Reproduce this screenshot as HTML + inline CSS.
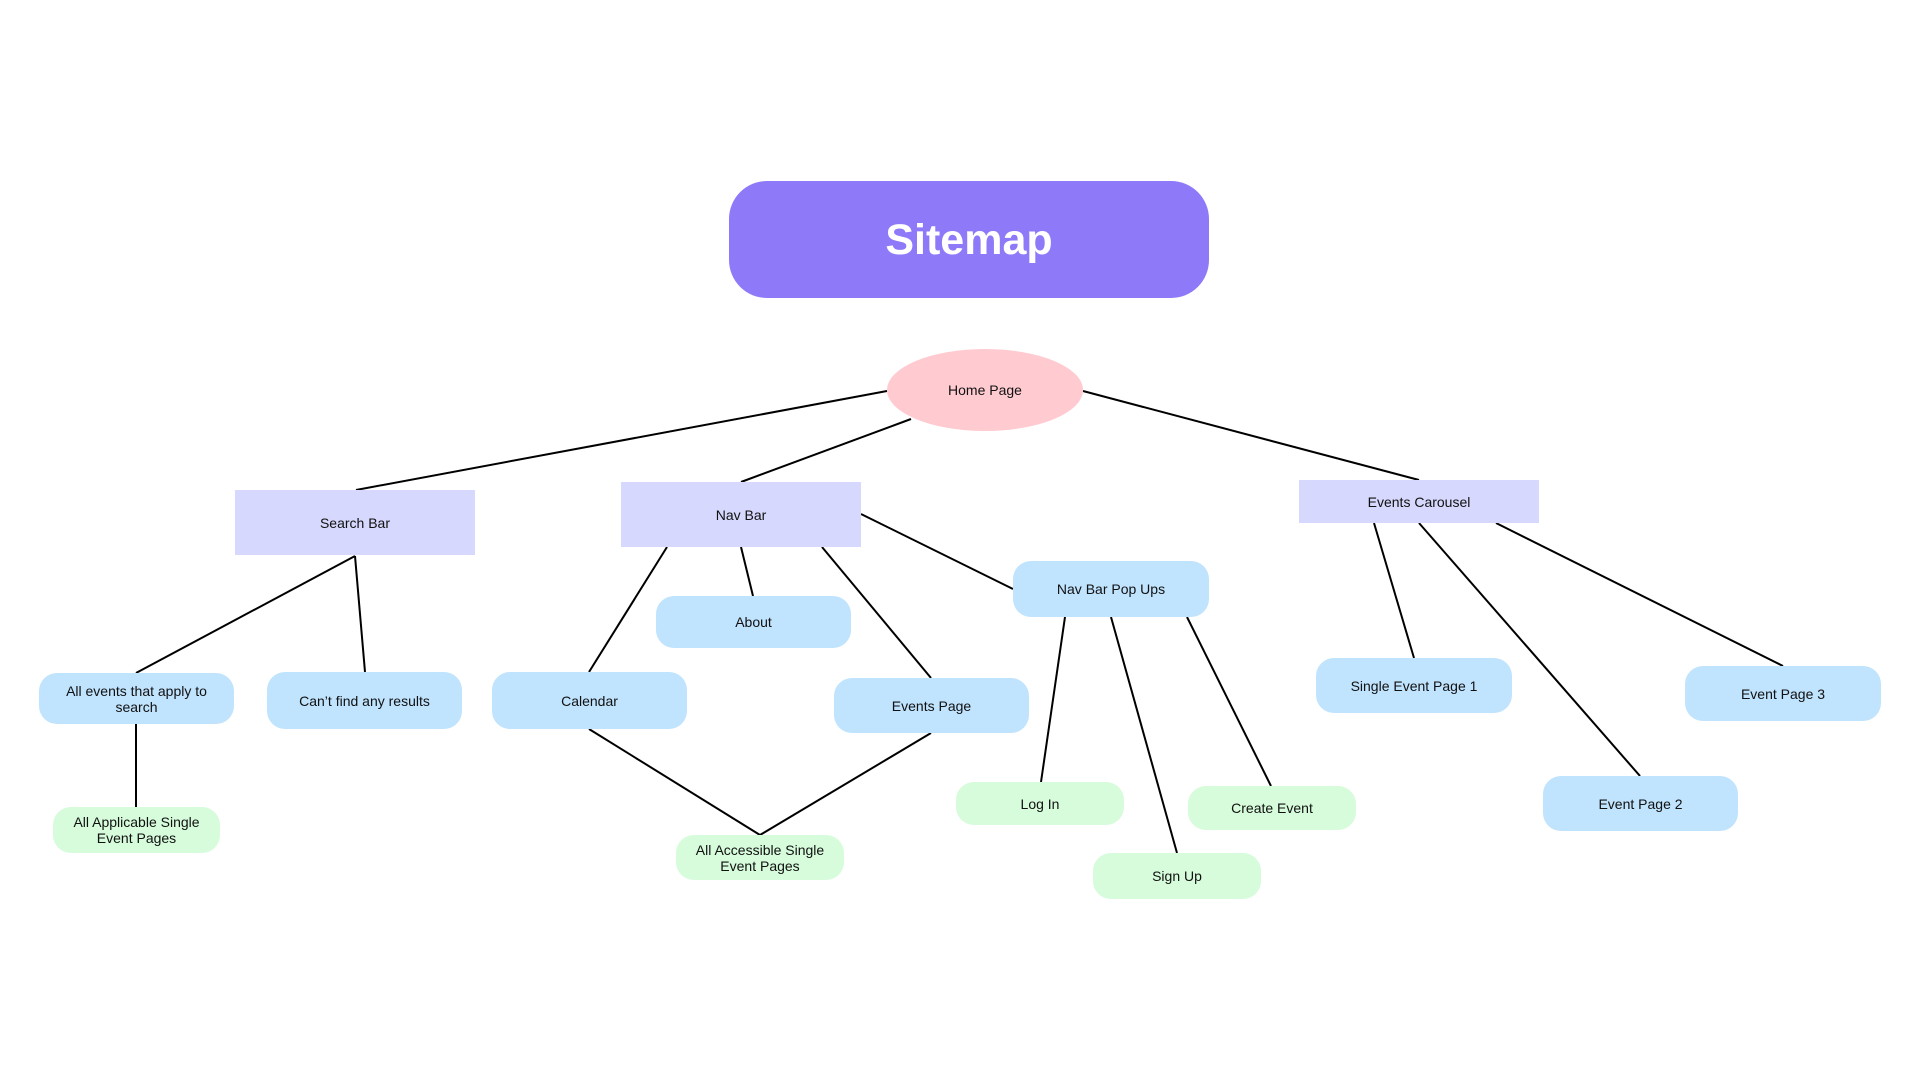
<!DOCTYPE html>
<html><head><meta charset="utf-8"><style>
html,body{margin:0;padding:0;background:#fff}
body{width:1920px;height:1080px;position:relative;overflow:hidden;font-family:"Liberation Sans",sans-serif}
.n{position:absolute;display:flex;align-items:center;justify-content:center;text-align:center;font-size:14px;color:#111;line-height:16px;box-sizing:border-box}
.r{background:#d6d8fd}
.b{background:#c0e3fe;border-radius:18px}
.g{background:#d6fcdb;border-radius:18px}
svg{position:absolute;left:0;top:0}
</style></head><body>
<svg width="1920" height="1080" stroke="#000" stroke-width="2" fill="none">
<line x1="887" y1="391" x2="356" y2="490"/>
<line x1="911" y1="419" x2="741" y2="482"/>
<line x1="1083" y1="391" x2="1419" y2="480"/>
<line x1="355" y1="556" x2="136" y2="673"/>
<line x1="355" y1="556" x2="365" y2="672"/>
<line x1="136" y1="724" x2="136" y2="807"/>
<line x1="667" y1="547" x2="589" y2="672"/>
<line x1="741" y1="547" x2="753" y2="596"/>
<line x1="822" y1="547" x2="931" y2="678"/>
<line x1="861" y1="514" x2="1013" y2="589"/>
<line x1="589" y1="729" x2="760" y2="835"/>
<line x1="931" y1="733" x2="760" y2="835"/>
<line x1="1065" y1="617" x2="1041" y2="782"/>
<line x1="1111" y1="617" x2="1177" y2="853"/>
<line x1="1187" y1="617" x2="1271" y2="786"/>
<line x1="1374" y1="523" x2="1414" y2="658"/>
<line x1="1419" y1="523" x2="1640" y2="776"/>
<line x1="1496" y1="523" x2="1783" y2="666"/>
</svg>
<div class="n" style="left:729px;top:181px;width:480px;height:117px;background:#8e7af8;border-radius:38px;color:#fff;font-size:43px;font-weight:bold">Sitemap</div>
<div class="n" style="left:887px;top:349px;width:196px;height:82px;background:#ffcbd1;border-radius:50%">Home Page</div>
<div class="n r" style="left:235px;top:490px;width:240px;height:65px">Search Bar</div>
<div class="n r" style="left:621px;top:482px;width:240px;height:65px">Nav Bar</div>
<div class="n r" style="left:1299px;top:480px;width:240px;height:43px">Events Carousel</div>
<div class="n b" style="left:39px;top:673px;width:195px;height:51px">All events that apply to<br>search</div>
<div class="n b" style="left:267px;top:672px;width:195px;height:57px">Can’t find any results</div>
<div class="n b" style="left:492px;top:672px;width:195px;height:57px">Calendar</div>
<div class="n b" style="left:656px;top:596px;width:195px;height:52px">About</div>
<div class="n b" style="left:834px;top:678px;width:195px;height:55px">Events Page</div>
<div class="n b" style="left:1013px;top:561px;width:196px;height:56px">Nav Bar Pop Ups</div>
<div class="n b" style="left:1316px;top:658px;width:196px;height:55px">Single Event Page 1</div>
<div class="n b" style="left:1685px;top:666px;width:196px;height:55px">Event Page 3</div>
<div class="n b" style="left:1543px;top:776px;width:195px;height:55px">Event Page 2</div>
<div class="n g" style="left:53px;top:807px;width:167px;height:46px">All Applicable Single<br>Event Pages</div>
<div class="n g" style="left:676px;top:835px;width:168px;height:45px">All Accessible Single<br>Event Pages</div>
<div class="n g" style="left:956px;top:782px;width:168px;height:43px">Log In</div>
<div class="n g" style="left:1188px;top:786px;width:168px;height:44px">Create Event</div>
<div class="n g" style="left:1093px;top:853px;width:168px;height:46px">Sign Up</div>
</body></html>
